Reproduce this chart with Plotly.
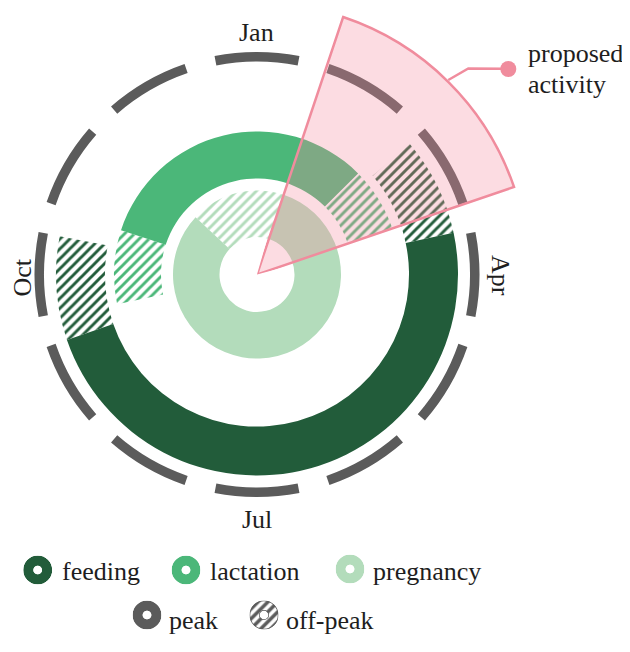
import math
import plotly.graph_objects as go

W, H = 630, 652

# ---------------- data (angles in degrees, clockwise from Jan at top) ----------------
months = ["Jan", "Feb", "Mar", "Apr", "May", "Jun", "Jul", "Aug", "Sep", "Oct", "Nov", "Dec"]
month_centers = [0, 30, 60, 90, 120, 150, 180, 210, 240, 270, 300, 330]
labelled_months = ["Jan", "Apr", "Jul", "Oct"]

feeding_peak = [(78, 251)]
feeding_offpeak = [(49.5, 78), (251, 281)]
lactation_peak = [(288, 405)]
lactation_offpeak = [(45, 71), (258, 288)]
pregnancy_peak = [(18.5, 313)]
pregnancy_offpeak = [(313, 378.5)]
proposed_activity = [(18.5, 71.2)]

legend_items = ["feeding", "lactation", "pregnancy", "peak", "off-peak"]

# ---------------- styles ----------------
C_FEED = "#225c3a"
C_LACT = "#4bb779"
C_PREG = "#b3dcbb"
C_GRAY = "#5b5b5b"
C_PINK = "#f08c9d"
C_PINK_FILL = "rgba(245,140,160,0.30)"
TXT = "#1e1e1e"
FONT = "Liberation Serif"
FS = 26

OFF = 8.0                      # page offset of the plot inside the browser window
CX, CY = 257.0, 274.5          # centre in window pixels
R_MAIN = 245.0                 # pixel radius of main polar (1 unit = 1 px)
RINGS = {"feed": (152, 201), "lact": (96, 143), "preg": (37.5, 84), "mark": (213, 222.5)}
MARK_SPAN = 22


def px_x(x):
    return (x - OFF) / W


def px_y(y):
    return 1 - (y - OFF) / H


def seg_trace(segs, r0, r1, color, hatched, subplot="polar"):
    theta = [(a + b) / 2 for a, b in segs]
    width = [b - a for a, b in segs]
    marker = dict(color=color, line=dict(width=0))
    if hatched:
        marker["pattern"] = dict(shape="/", fgcolor=color, bgcolor="rgba(255,255,255,0)",
                                 fgopacity=1, size=7, solidity=0.42, fillmode="replace")
    return go.Barpolar(theta=theta, width=width, base=[r0] * len(segs),
                       r=[r1 - r0] * len(segs), marker=marker, subplot=subplot,
                       hoverinfo="skip", showlegend=False)


fig = go.Figure()

# outer month marks (peak)
mr0, mr1 = RINGS["mark"]
fig.add_trace(go.Barpolar(theta=month_centers, width=[MARK_SPAN] * len(months),
                          base=[mr0] * len(months), r=[mr1 - mr0] * len(months),
                          marker=dict(color=C_GRAY, line=dict(width=0)),
                          hoverinfo="skip", showlegend=False, subplot="polar"))

fig.add_trace(seg_trace(feeding_peak, *RINGS["feed"], C_FEED, False))
fig.add_trace(seg_trace(feeding_offpeak, *RINGS["feed"], C_FEED, True))
fig.add_trace(seg_trace(lactation_peak, *RINGS["lact"], C_LACT, False))
fig.add_trace(seg_trace(lactation_offpeak, *RINGS["lact"], C_LACT, True))
fig.add_trace(seg_trace(pregnancy_peak, *RINGS["preg"], C_PREG, False))
fig.add_trace(seg_trace(pregnancy_offpeak, *RINGS["preg"], C_PREG, True))

# proposed activity wedge (own polar with a sector, same centre)
R_WEDGE = 271.5
fig.add_trace(go.Barpolar(theta=[(a + b) / 2 for a, b in proposed_activity],
                          width=[b - a for a, b in proposed_activity],
                          base=[0], r=[R_WEDGE],
                          marker=dict(color=C_PINK_FILL, line=dict(color=C_PINK, width=2.5)),
                          hoverinfo="skip", showlegend=False, subplot="polar2"))

# ---------------- polar layouts ----------------
hidden = dict(visible=False, showgrid=False, showline=False, showticklabels=False, ticks="")

polar_main = dict(
    domain=dict(x=[px_x(CX - R_MAIN), px_x(CX + R_MAIN)], y=[px_y(CY + R_MAIN), px_y(CY - R_MAIN)]),
    bgcolor="rgba(0,0,0,0)", barmode="overlay",
    radialaxis=dict(range=[0, R_MAIN], **hidden),
    angularaxis=dict(rotation=90, direction="clockwise", **hidden),
)

# sector in screen degrees (ccw from east): covers bearings 16..75
S0, S1 = 15, 74
R2 = 276.0
bx1 = math.cos(math.radians(S0))
by1 = math.sin(math.radians(S1))
polar_wedge = dict(
    domain=dict(x=[px_x(CX), px_x(CX + bx1 * R2)], y=[px_y(CY), px_y(CY - by1 * R2)]),
    sector=[S0, S1], bgcolor="rgba(0,0,0,0)", barmode="overlay",
    radialaxis=dict(range=[0, R2], **hidden),
    angularaxis=dict(rotation=90, direction="clockwise", **hidden),
)

layout_polars = {"polar": polar_main, "polar2": polar_wedge}

# ---------------- legend (icons as tiny donut polars) ----------------
legend_icons = [
    (37.7, 570, C_FEED, False),
    (186.0, 570, C_LACT, False),
    (350.0, 569, C_PREG, False),
    (147.0, 615, C_GRAY, False),
    (264.0, 615, C_GRAY, True),
]
legend_text_pos = [(60, 571), (208, 571), (371, 571), (167, 620), (284, 620)]
ICON_R = 14.5
for i, (ix, iy, col, hatch) in enumerate(legend_icons):
    name = "polar%d" % (i + 3)
    if hatch:
        mk = dict(color=col, line=dict(color=col, width=1.5),
                  pattern=dict(shape="/", fgcolor=col, bgcolor="white", fgopacity=1,
                               size=7, solidity=0.5, fillmode="replace"))
    else:
        mk = dict(color=col, line=dict(width=0))
    fig.add_trace(go.Barpolar(theta=[0], width=[360], base=[0], r=[1], marker=mk,
                              hoverinfo="skip", showlegend=False, subplot=name))
    layout_polars[name] = dict(
        domain=dict(x=[px_x(ix - ICON_R), px_x(ix + ICON_R)], y=[px_y(iy + ICON_R), px_y(iy - ICON_R)]),
        hole=0.3, bgcolor="rgba(0,0,0,0)",
        radialaxis=dict(range=[0, 1], **hidden),
        angularaxis=dict(**hidden),
    )

# ---------------- annotations ----------------
annotations = []
month_label_pos = {"Jan": (256.5, 32, 0), "Apr": (501, 275, 90),
                   "Jul": (257, 519.5, 0), "Oct": (22, 277.5, -90)}
for m in labelled_months:
    x, y, ang = month_label_pos[m]
    annotations.append(dict(text=m, x=px_x(x), y=px_y(y), xref="paper", yref="paper",
                            showarrow=False, textangle=ang, xanchor="center", yanchor="middle",
                            borderpad=0, font=dict(family=FONT, size=FS, color=TXT)))

for txt, (x, y) in zip(legend_items, legend_text_pos):
    annotations.append(dict(text=txt, x=px_x(x), y=px_y(y), xref="paper", yref="paper",
                            showarrow=False, xanchor="left", yanchor="middle",
                            font=dict(family=FONT, size=FS, color=TXT)))

for txt, y in [("proposed", 53), ("activity", 84)]:
    annotations.append(dict(text=txt, x=px_x(526), y=px_y(y), xref="paper", yref="paper",
                            showarrow=False, xanchor="left", yanchor="middle",
                            font=dict(family=FONT, size=FS, color=TXT)))

shapes = [
    dict(type="path", xref="paper", yref="paper",
         path="M %f %f L %f %f L %f %f" % (px_x(448.3), px_y(80), px_x(468.3), px_y(68.5),
                                           px_x(505), px_y(68.8)),
         line=dict(color=C_PINK, width=2.5)),
    dict(type="circle", xref="paper", yref="paper",
         x0=px_x(508.3 - 8), x1=px_x(508.3 + 8), y0=px_y(69 + 8), y1=px_y(69 - 8),
         fillcolor=C_PINK, line=dict(width=0)),
]

fig.update_layout(
    width=W, height=H, autosize=False,
    margin=dict(l=0, r=0, t=0, b=0),
    paper_bgcolor="white", plot_bgcolor="white",
    showlegend=False,
    annotations=annotations, shapes=shapes,
    **layout_polars,
)

fig.write_html("out.html")
